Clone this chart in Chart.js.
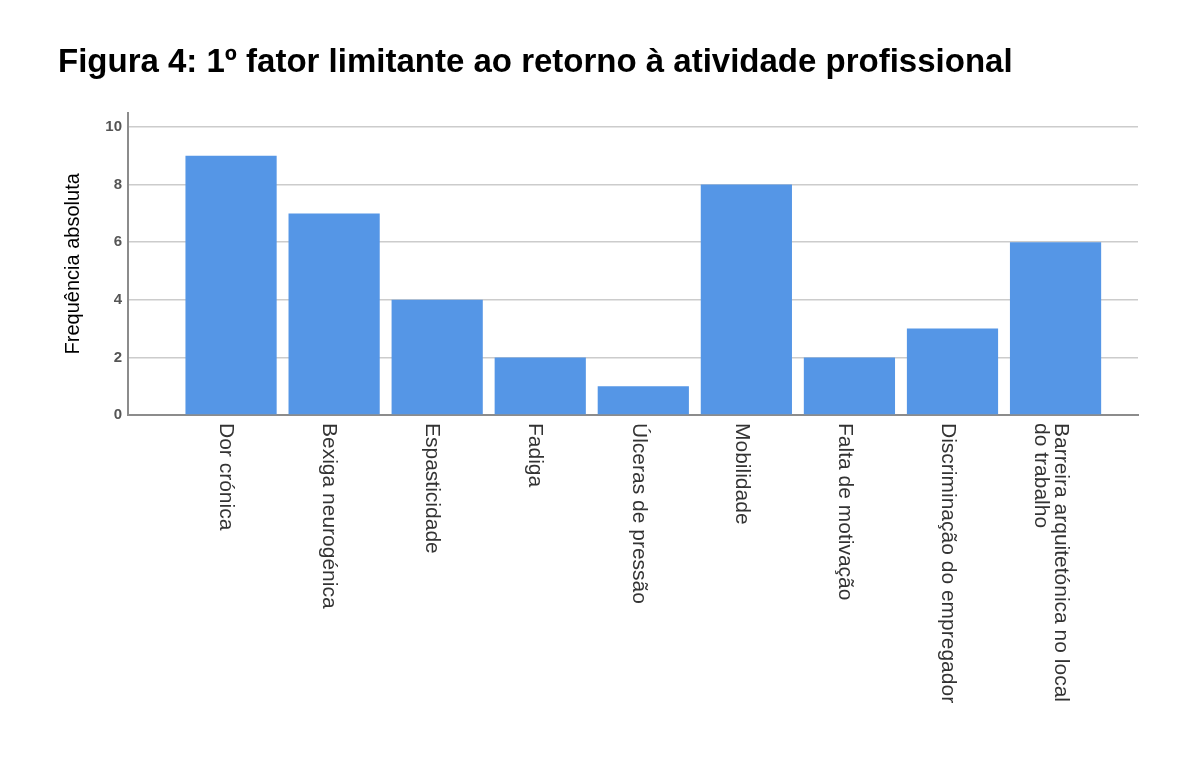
<!DOCTYPE html>
<html>
<head>
<meta charset="utf-8">
<script src="https://cdn.jsdelivr.net/npm/chart.js@4"></script>
<style>
html,body{margin:0;padding:0;background:#fff;}
#wrap{width:1200px;height:758px;position:relative;}
</style>
</head>
<body>
<div id="wrap"><canvas id="c"></canvas></div>
<script>
const titleText = 'Figura 4: 1º fator limitante ao retorno à atividade profissional';
const yAxisTitle = 'Frequência absoluta';
const categories = [
  ['Dor crónica'],
  ['Bexiga neurogénica'],
  ['Espasticidade'],
  ['Fadiga'],
  ['Úlceras de pressão'],
  ['Mobilidade'],
  ['Falta de motivação'],
  ['Discriminação do empregador'],
  ['Barreira arquitetónica no local', 'do trabalho']
];
const values = [9, 7, 4, 2, 1, 8, 2, 3, 6];
const yTicks = [0, 2, 4, 6, 8, 10];

const points = values.map((v, i) => ({x: i, y: v}));

const rotatedLabels = {
  id: 'rotatedLabels',
  afterDraw(chart) {
    const ctx = chart.ctx;
    const xs = chart.scales.x;
    const top = chart.chartArea.bottom + 8;
    ctx.save();
    ctx.font = '21px Arial, "Liberation Sans", sans-serif';
    ctx.fillStyle = '#333';
    ctx.textAlign = 'left';
    ctx.textBaseline = 'middle';
    categories.forEach((lines, i) => {
      const x = xs.getPixelForValue(i) - 5;
      ctx.save();
      ctx.translate(x, top);
      ctx.rotate(Math.PI / 2);
      const n = lines.length;
      lines.forEach((t, k) => {
        ctx.fillText(t, 0, (k - (n - 1) / 2) * 20);
      });
      ctx.restore();
    });
    ctx.restore();
  }
};

new Chart(document.getElementById('c'), {
  type: 'bar',
  data: {
    datasets: [{
      data: points,
      backgroundColor: '#5596e6',
      borderWidth: 0,
      barPercentage: 0.885,
      categoryPercentage: 1.0
    }]
  },
  options: {
    responsive: true,
    maintainAspectRatio: false,
    animation: false,
    layout: {padding: {left: 58, right: 62, top: 43, bottom: 0}},
    plugins: {
      legend: {display: false},
      tooltip: {enabled: false},
      title: {
        display: true,
        text: titleText,
        align: 'start',
        color: '#000',
        font: {family: 'Arial, "Liberation Sans", sans-serif', size: 33, weight: 'bold'},
        padding: {top: 0, bottom: 30}
      }
    },
    scales: {
      x: {
        type: 'linear',
        offset: false,
        min: -1.0,
        max: 8.8,
        afterBuildTicks(scale) { scale.ticks = categories.map((c, i) => ({value: i})); },
        grid: {display: false, drawTicks: false},
        border: {display: true, color: '#8c8c8c', width: 2},
        ticks: {display: false},
        afterFit(scale) { scale.height = 343; }
      },
      y: {
        type: 'linear',
        min: 0,
        max: 10.5,
        afterBuildTicks(scale) { scale.ticks = yTicks.map(v => ({value: v})); },
        grid: {color: '#cccccc', lineWidth: 1.5, drawTicks: false},
        border: {display: true, color: '#8c8c8c', width: 2},
        ticks: {
          color: '#555',
          padding: 6,
          font: {family: 'Arial, "Liberation Sans", sans-serif', size: 15, weight: 'bold'}
        },
        title: {
          display: true,
          text: yAxisTitle,
          color: '#000',
          font: {family: 'Arial, "Liberation Sans", sans-serif', size: 20},
          padding: {top: 3, bottom: 0}
        },
        afterFit(scale) { scale.width = 70; }
      }
    }
  },
  plugins: [rotatedLabels]
});
</script>
</body>
</html>
